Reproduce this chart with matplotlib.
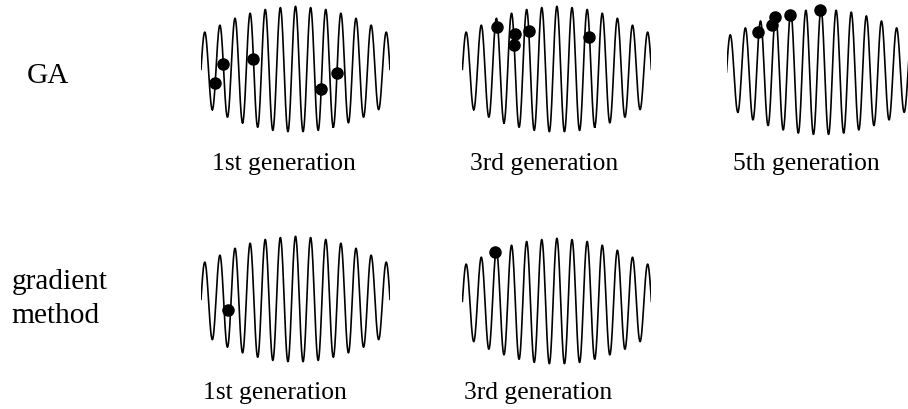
import numpy as np
import matplotlib
matplotlib.use("Agg")
import matplotlib.pyplot as plt

# ---- data ----
# local extrema of the fitness landscape (alternating peaks/troughs), normalised
curve_extrema = [0.59, -0.64, 0.70, -0.76, 0.81, -0.85, 0.89, -0.92, 0.95, -0.97,
                 0.98, -0.99, 1.00, -0.99, 0.98, -0.97, 0.95, -0.92, 0.89, -0.85,
                 0.81, -0.76, 0.70, -0.64, 0.59]

# individuals (x in half-period units along the curve, y normalised fitness)
ga_gen1_x = [1.85, 2.91, 6.92, 15.9, 18.0]
ga_gen1_y = [-0.21, 0.08, 0.16, -0.31, -0.06]
ga_gen3_x = [4.58, 6.96, 6.87, 8.81, 16.79]
ga_gen3_y = [0.67, 0.56, 0.38, 0.61, 0.52]
ga_gen5_x = [4.13, 5.98, 6.38, 8.36, 12.33]
ga_gen5_y = [0.64, 0.75, 0.87, 0.91, 0.98]
grad_gen1_x = [3.53]
grad_gen1_y = [-0.17]
grad_gen3_x = [4.35]
grad_gen3_y = [0.78]

row_labels = ["GA", "gradient", "method"]
captions_ga = ["1st generation", "3rd generation", "5th generation"]
captions_grad = ["1st generation", "3rd generation"]

# ---- build curve through the extrema ----
def curve_points(ext):
    xs, ys = [], []
    s = np.linspace(0, 1, 30)
    xs.append(0.5 * s); ys.append(ext[0] * np.sin(np.pi / 2 * s))
    for i in range(len(ext) - 1):
        a, b = ext[i], ext[i + 1]
        xs.append(i + 0.5 + s)
        ys.append((a + b) / 2 + (a - b) / 2 * np.cos(np.pi * s))
    n = len(ext)
    xs.append(n - 0.5 + 0.5 * s); ys.append(ext[-1] * np.cos(np.pi / 2 * s))
    return np.concatenate(xs), np.concatenate(ys)

cx, cy = curve_points(curve_extrema)

W, H = 908, 409
fig = plt.figure(figsize=(W / 100, H / 100), dpi=100)
fig.patch.set_facecolor("white")

XPX = 189.0   # pixel width of a curve
YPX = 63.0    # pixels per unit amplitude
YLIM = 1.15

def panel(start_px, center_px, dx, dy):
    left = start_px / W
    width = XPX / W
    h_px = 2 * YLIM * YPX
    bottom = (H - center_px - YLIM * YPX) / H
    ax = fig.add_axes([left, bottom, width, h_px / H])
    ax.plot(cx, cy, color="black", lw=1.2)
    ax.plot(dx, dy, "o", color="black", ms=8, clip_on=False)
    ax.set_xlim(0, len(curve_extrema))
    ax.set_ylim(-YLIM, YLIM)
    ax.axis("off")
    return ax

panel(201, 69.3, ga_gen1_x, ga_gen1_y)
panel(462.4, 69.3, ga_gen3_x, ga_gen3_y)
panel(726.5, 72.0, ga_gen5_x, ga_gen5_y)
panel(201, 299.3, grad_gen1_x, grad_gen1_y)
panel(462.4, 301.3, grad_gen3_x, grad_gen3_y)

serif = ["Liberation Serif", "DejaVu Serif"]

def ptext(x, y, s, size, **kw):
    fig.text(x / W, 1 - y / H, s, fontsize=size, family=serif, **kw)

ptext(26.7, 83.3, row_labels[0], 21.2, va="baseline", ha="left")
ptext(11.7, 289.3, row_labels[1], 21.2, va="baseline", ha="left")
ptext(11.7, 323.3, row_labels[2], 21.2, va="baseline", ha="left")

for x, t in zip([211.7, 470, 733.3], captions_ga):
    ptext(x, 170, t, 18.4, va="baseline", ha="left")
for x, t in zip([203, 464], captions_grad):
    ptext(x, 399, t, 18.4, va="baseline", ha="left")

fig.savefig("out.png", dpi=100, facecolor="white")
